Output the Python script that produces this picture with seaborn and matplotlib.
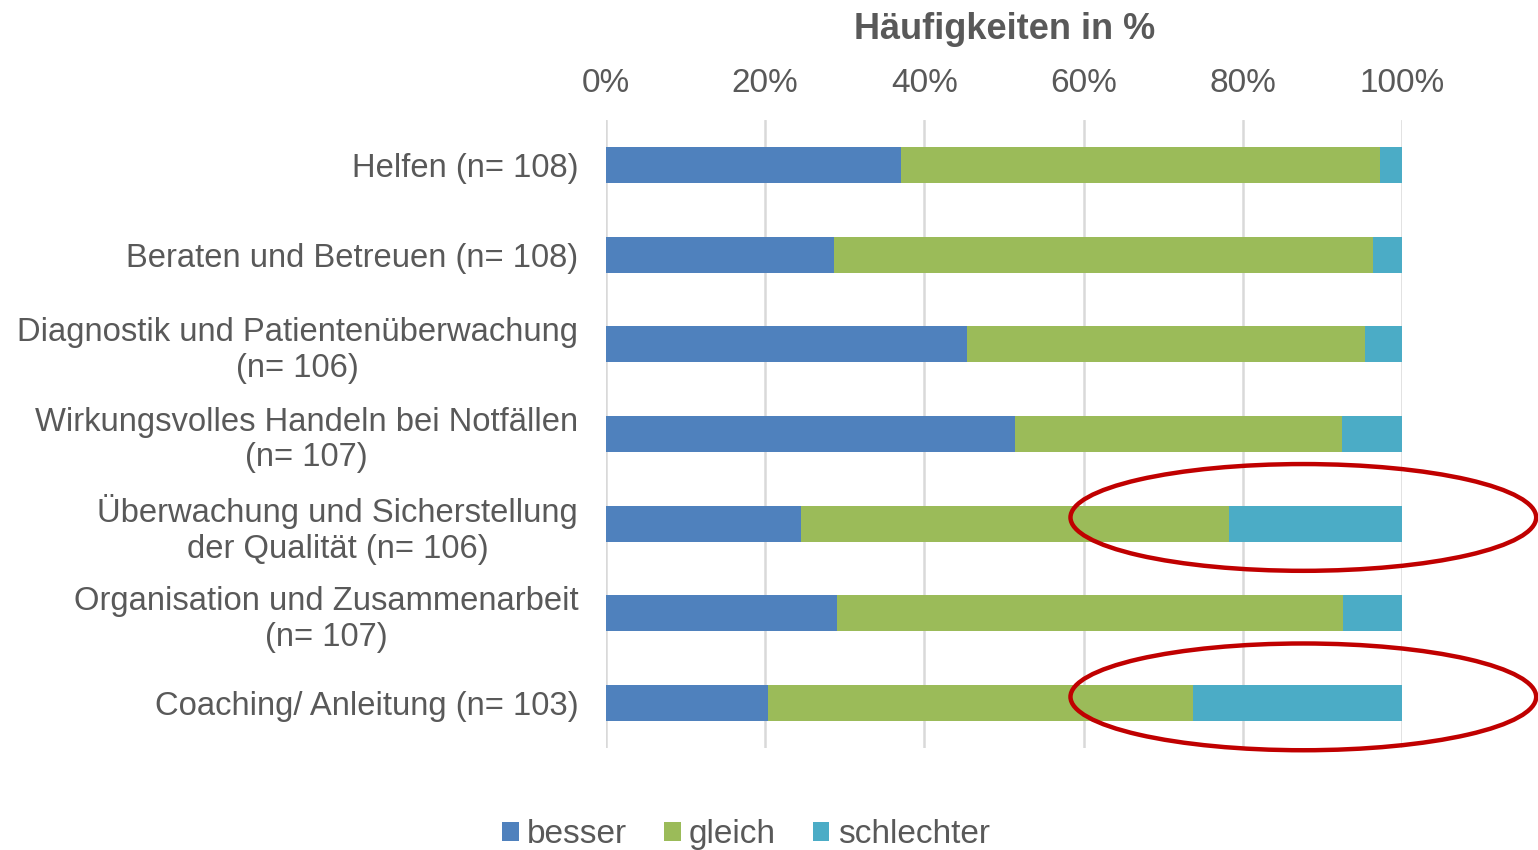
import matplotlib
matplotlib.use("Agg")
import matplotlib.pyplot as plt
from matplotlib.patches import Ellipse, Patch
import pandas as pd
import seaborn as sns

# ── data (percent per row) ──────────────────────────────────────
categories = [
    "Helfen (n= 108)",
    "Beraten und Betreuen (n= 108)",
    "Diagnostik und Patientenüberwachung\n(n= 106)",
    "Wirkungsvolles Handeln bei Notfällen\n(n= 107)",
    "Überwachung und Sicherstellung\nder Qualität (n= 106)",
    "Organisation und Zusammenarbeit\n(n= 107)",
    "Coaching/ Anleitung (n= 103)",
]
besser = [37.0, 28.7, 45.3, 51.4, 24.5, 29.0, 20.4]
gleich = [60.2, 67.6, 50.0, 41.1, 53.8, 63.6, 53.4]
schlechter = [2.8, 3.7, 4.7, 7.5, 21.7, 7.4, 26.2]
series_names = ["besser", "gleich", "schlechter"]
colors = ["#4F81BD", "#9BBB59", "#4BACC6"]
xticks = [0, 20, 40, 60, 80, 100]
highlighted = [4, 6]  # rows circled in red

TEXT = "#595959"

sns.set_theme(style="white")
plt.rcParams["font.family"] = ["Liberation Sans", "DejaVu Sans"]

df = pd.DataFrame({"cat": categories, "besser": besser,
                   "gleich": gleich, "schlechter": schlechter})
df["c1"] = df["besser"]
df["c2"] = df["besser"] + df["gleich"]
df["c3"] = df["c2"] + df["schlechter"]

fig = plt.figure(figsize=(15.38, 8.5), dpi=100)
ax = fig.add_axes([0.394, 0.12, 0.5176, 0.7388])

# stacked bars: draw cumulative totals back to front
for col, color in zip(["c3", "c2", "c1"], colors[::-1]):
    sns.barplot(data=df, x=col, y="cat", color=color, width=0.4,
                saturation=1, ax=ax, zorder=2, linewidth=0)

ax.set_xlim(0, 100)
ax.set_ylim(6.5, -0.5)
ax.xaxis.tick_top()
ax.set_xticks(xticks)
ax.set_xticklabels([f"{t}%" for t in xticks])
ax.tick_params(axis="x", length=0, pad=15, labelsize=24, labelcolor=TEXT)
ax.tick_params(axis="y", length=0, pad=20, labelsize=23.6, labelcolor=TEXT)
for lbl in ax.get_yticklabels():
    lbl.set_multialignment("center")
ax.set_xlabel("")
ax.set_ylabel("")
ax.grid(axis="x", color="#D9D9D9", linewidth=1.8, zorder=0)
ax.grid(axis="y", visible=False)
for s in ax.spines.values():
    s.set_visible(False)

fig.text(0.653, 0.965, "Häufigkeiten in %", ha="center", va="center",
         fontsize=26, fontweight="bold", color=TEXT)

# red highlight ellipses
for i in highlighted:
    e = Ellipse((87.6, i - 0.07), width=58.5, height=1.19, fill=False,
                edgecolor="#C00000", linewidth=3.2, transform=ax.transData,
                clip_on=False, zorder=5)
    ax.add_patch(e)

handles = [Patch(facecolor=c, edgecolor="none") for c in colors]
fig.legend(handles, series_names, loc="center", bbox_to_anchor=(0.485, 0.018),
           ncol=3, frameon=False, fontsize=24, labelcolor=TEXT,
           handlelength=0.5, handleheight=0.5, handletextpad=0.25,
           columnspacing=1.1)

fig.savefig("out.png", dpi=100)
